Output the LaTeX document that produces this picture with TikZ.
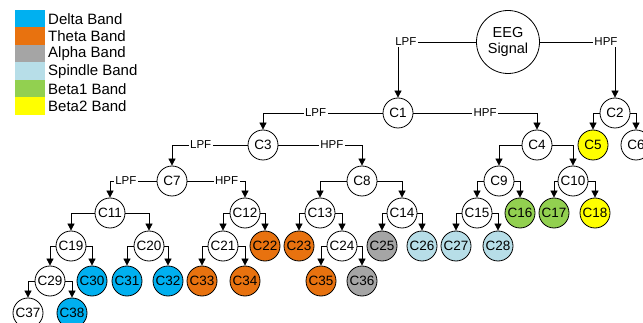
\documentclass[tikz,border=0pt]{standalone}
\usepackage{fontspec}
\setmainfont{Liberation Sans}
\usetikzlibrary{arrows.meta}

\definecolor{deltaband}{HTML}{00B0F0}
\definecolor{thetaband}{HTML}{E8720F}
\definecolor{alphaband}{HTML}{A5A5A5}
\definecolor{spindleband}{HTML}{B7DEE8}
\definecolor{betaoneband}{HTML}{92D050}
\definecolor{betatwoband}{HTML}{FFFF00}

\begin{document}
\begin{tikzpicture}[
  x=1pt, y=-1pt,
  %% ─── node styles ────────────────────────────────────────────────
  coef/.style={
    circle, draw=black, line width=0.8pt, fill=white,
    minimum size=30pt, inner sep=0pt, font=\fontsize{13.5}{15}\selectfont},
  source/.style={
    circle, draw=black, line width=0.8pt, align=center,
    minimum size=63pt, inner sep=0pt, font=\fontsize{14.5}{16.5}\selectfont},
  filt/.style={fill=white, inner sep=1.5pt, font=\fontsize{11.5}{13}\selectfont},
  swatch/.style={minimum width=30pt, minimum height=17.5pt, inner sep=0pt},
  legtext/.style={anchor=west, inner sep=0pt, font=\fontsize{15}{17}\selectfont},
  arrow/.style={-{Triangle[width=7pt,length=7pt]}, line width=0.8pt}
]
  \useasboundingbox (0,0) rectangle (643,323);

  %% ─── 1. legend ───────────────────────────────────────────────────
  \foreach \col/\txt [count=\i] in {deltaband/Delta Band, thetaband/Theta Band,
      alphaband/Alpha Band, spindleband/Spindle Band,
      betaoneband/Beta1 Band, betatwoband/Beta2 Band} {
    \node[swatch, fill=\col] (sw\i) at (30, 1.25+17.5*\i) {};
    \node[legtext] (lg\i) at (48, 1.25+17.5*\i) {\txt};
  }

  %% ─── 2. decomposition tree ───────────────────────────────────────
  \node[source] (eeg) at (508,42) {EEG\\Signal};

  \node[coef] (c1) at (398,113) {C1};
  \node[coef] (c2) at (615,113) {C2};

  \node[coef] (c3) at (263,145) {C3};
  \node[coef] (c4) at (537,145) {C4};
  \node[coef, fill=betatwoband] (c5) at (593,145) {C5};
  \node[coef] (c6) at (636,145) {C6};

  \node[coef] (c7)  at (172,181) {C7};
  \node[coef] (c8)  at (362,181) {C8};
  \node[coef] (c9)  at (499,181) {C9};
  \node[coef] (c10) at (573,181) {C10};

  \node[coef] (c11) at (110,213) {C11};
  \node[coef] (c12) at (245,213) {C12};
  \node[coef] (c13) at (320,213) {C13};
  \node[coef] (c14) at (402,213) {C14};
  \node[coef] (c15) at (477,213) {C15};
  \node[coef, fill=betaoneband] (c16) at (520,213) {C16};
  \node[coef, fill=betaoneband] (c17) at (554,213) {C17};
  \node[coef, fill=betatwoband] (c18) at (595,213) {C18};

  \node[coef] (c19) at (71,246)  {C19};
  \node[coef] (c20) at (149,246) {C20};
  \node[coef] (c21) at (223,246) {C21};
  \node[coef, fill=thetaband] (c22) at (265,246) {C22};
  \node[coef, fill=thetaband] (c23) at (299,246) {C23};
  \node[coef] (c24) at (342,246) {C24};
  \node[coef, fill=alphaband] (c25) at (382,246) {C25};
  \node[coef, fill=spindleband] (c26) at (422,246) {C26};
  \node[coef, fill=spindleband] (c27) at (456,246) {C27};
  \node[coef, fill=spindleband] (c28) at (498,246) {C28};

  \node[coef] (c29) at (50,281) {C29};
  \node[coef, fill=deltaband] (c30) at (92,281)  {C30};
  \node[coef, fill=deltaband] (c31) at (127,281) {C31};
  \node[coef, fill=deltaband] (c32) at (168,281) {C32};
  \node[coef, fill=thetaband] (c33) at (202,281) {C33};
  \node[coef, fill=thetaband] (c34) at (245,281) {C34};
  \node[coef, fill=thetaband] (c35) at (321,281) {C35};
  \node[coef, fill=alphaband] (c36) at (362,281) {C36};

  \node[coef] (c37) at (28,313) {C37};
  \node[coef, fill=deltaband] (c38) at (72,313) {C38};

  %% ─── 3. filter branches ──────────────────────────────────────────
  % labelled LPF / HPF splits
  \foreach \p/\c/\t/\q in {eeg/c1/LPF/0.45, eeg/c2/HPF/0.44,
      c1/c3/LPF/0.28, c1/c4/HPF/0.29, c3/c7/LPF/0.31, c3/c8/HPF/0.32,
      c7/c11/LPF/0.33, c7/c12/HPF/0.34} {
    \draw[arrow] (\p) -| node[filt, pos=\q] {\t} (\c);
  }

  % plain splits further down
  \foreach \p/\c in {c2/c5, c2/c6, c4/c9, c4/c10, c8/c13, c8/c14,
      c9/c15, c9/c16, c10/c17, c10/c18, c11/c19, c11/c20, c12/c21, c12/c22,
      c13/c23, c13/c24, c14/c25, c14/c26, c15/c27, c15/c28,
      c19/c29, c19/c30, c20/c31, c20/c32, c21/c33, c21/c34,
      c24/c35, c24/c36, c29/c37, c29/c38} {
    \draw[arrow] (\p) -| (\c);
  }

\end{tikzpicture}
\end{document}
